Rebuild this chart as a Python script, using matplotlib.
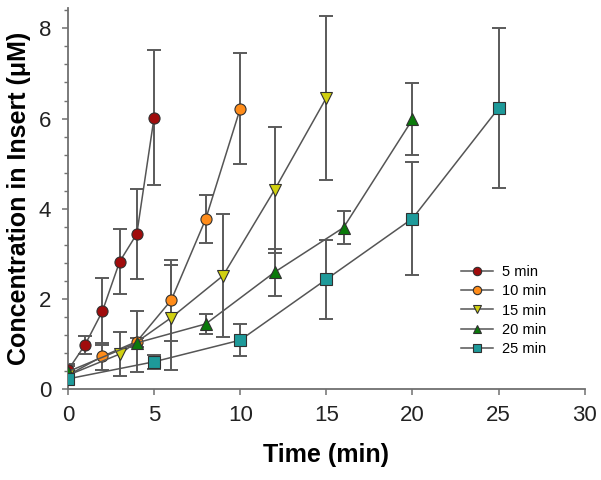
import matplotlib
matplotlib.use("Agg")
import matplotlib.pyplot as plt
from matplotlib.ticker import MultipleLocator

plt.rcParams['font.family'] = ['Liberation Sans', 'DejaVu Sans']

# donnees
labels = ["5 min", "10 min", "15 min", "20 min", "25 min"]
times = [
    [0, 1, 2, 3, 4, 5],
    [0, 2, 4, 6, 8, 10],
    [0, 3, 6, 9, 12, 15],
    [0, 4, 8, 12, 16, 20],
    [0, 5, 10, 15, 20, 25],
]
conc = [
    [0.41, 0.98, 1.72, 2.82, 3.44, 6.02],
    [0.30, 0.72, 1.05, 1.97, 3.77, 6.22],
    [0.30, 0.77, 1.58, 2.51, 4.42, 6.46],
    [0.38, 1.02, 1.44, 2.59, 3.58, 5.98],
    [0.22, 0.60, 1.08, 2.43, 3.78, 6.23],
]
errs = [
    [0.15, 0.20, 0.74, 0.72, 1.00, 1.50],
    [0.12, 0.30, 0.67, 0.90, 0.54, 1.23],
    [0.12, 0.48, 1.17, 1.36, 1.40, 1.82],
    [0.12, 0.10, 0.22, 0.52, 0.36, 0.80],
    [0.10, 0.15, 0.36, 0.88, 1.25, 1.78],
]

markers = ['o', 'o', 'v', '^', 's']
colors = ['#a00c0c', '#ff8c1a', '#d0d010', '#0a7a0a', '#1e9a9a']

fig = plt.figure(figsize=(6.01, 4.80), dpi=100)
ax = fig.add_axes([0.113, 0.19, 0.86, 0.793])

for t, c, e, m, col, lab in zip(times, conc, errs, markers, colors, labels):
    ax.errorbar(t, c, yerr=e, fmt='none', ecolor='#5a5a5a', elinewidth=1.4,
                capsize=5, capthick=1.4, zorder=2)
    ax.plot(t, c, color='#555555', lw=1.1, marker=m, markersize=8,
            markerfacecolor=col, markeredgecolor='#303030', markeredgewidth=0.8,
            label=lab, zorder=3)

ax.set_xlim(0, 30)
ax.set_ylim(0, 8.45)
ax.xaxis.set_major_locator(MultipleLocator(5))
ax.yaxis.set_major_locator(MultipleLocator(2))
ax.yaxis.set_minor_locator(MultipleLocator(0.4))

for s in ['top', 'right']:
    ax.spines[s].set_visible(False)
for s in ['left', 'bottom']:
    ax.spines[s].set_color('#707070')
    ax.spines[s].set_linewidth(1.3)

ax.tick_params(axis='both', which='major', labelsize=16, color='#707070',
               length=4, width=1.1, pad=8, labelcolor='#222222')
ax.tick_params(axis='y', which='minor', color='#707070', length=3, width=1)

ax.set_xlabel("Time (min)", fontsize=18, fontweight='bold', labelpad=12)
ax.set_ylabel("Concentration in Insert (\u03bcM)", fontsize=18, fontweight='bold', labelpad=6)

leg = ax.legend(loc='lower right', bbox_to_anchor=(0.945, 0.06), frameon=False,
                fontsize=10.5, handlelength=2.2, labelspacing=0.35, borderpad=0.2,
                handletextpad=0.6, markerscale=0.75)

fig.savefig("out.png", dpi=100)
